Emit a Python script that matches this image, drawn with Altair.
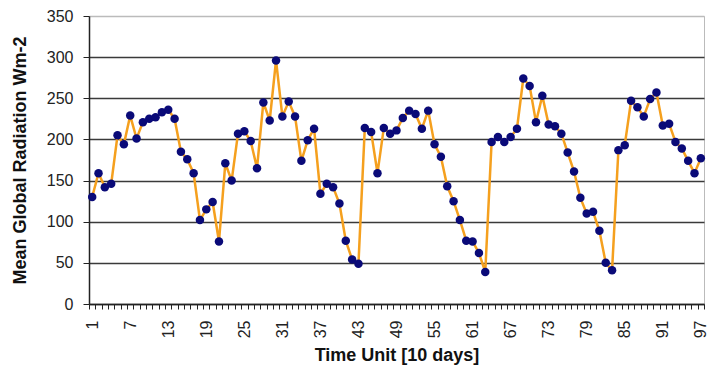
import altair as alt
import pandas as pd

time_unit = list(range(1, 98))
radiation = [130, 159, 142, 146, 205, 194, 229, 201, 221, 225,
             227, 233, 236, 225, 185, 176, 159, 102, 115, 124,
             76, 171, 150, 207, 210, 198, 165, 245, 223, 296,
             228, 246, 228, 174, 199, 213, 134, 146, 142, 122,
             77, 54, 49, 214, 209, 159, 214, 207, 211, 226,
             235, 231, 213, 235, 194, 179, 143, 125, 102, 77,
             76, 62, 39, 197, 203, 197, 203, 213, 274, 265,
             221, 253, 218, 216, 207, 184, 161, 129, 110, 112,
             89, 50, 41, 187, 193, 247, 239, 228, 249, 257,
             217, 219, 197, 189, 174, 159, 177]
y_ticks = [0, 50, 100, 150, 200, 250, 300, 350]

df = pd.DataFrame({"t": time_unit, "v": radiation})

FONT = "Liberation Sans"

x_enc = alt.X("t:O", sort=time_unit,
              scale=alt.Scale(paddingInner=0, paddingOuter=0),
              axis=alt.Axis(title="Time Unit [10 days]",
                            labelExpr="(datum.value - 1) % 6 == 0 ? datum.value : ''",
                            labelAngle=-90, labelAlign="right", labelBaseline="middle",
                            labelFontSize=16, labelColor="#222", labelFont=FONT,
                            labelPadding=11, labelOverlap=False,
                            tickBand="extent", tickSize=5, tickColor="#222",
                            domainColor="#222", domainWidth=1.5,
                            titleFont=FONT, titleFontSize=18, titleFontWeight="bold",
                            titleColor="#111", titlePadding=9, grid=False))
y_enc = alt.Y("v:Q", scale=alt.Scale(domain=[0, 350], nice=False),
              axis=alt.Axis(title="Mean Global Radiation Wm-2", values=y_ticks,
                            labelFontSize=16, labelColor="#222", labelFont=FONT,
                            tickSize=6, tickColor="#222", labelPadding=10,
                            domainColor="#222", domainWidth=1.5,
                            gridColor={"condition": {"test": "datum.value == 350", "value": "#bbbbbb"},
                                       "value": "#3a3a3a"},
                            gridWidth=1.3,
                            titleFont=FONT, titleFontSize=18, titleFontWeight="bold",
                            titleColor="#111", titlePadding=17))

line = alt.Chart(df).mark_line(color="#F5A01E", strokeWidth=2.5).encode(x=x_enc, y=y_enc)
pts = alt.Chart(df).mark_point(filled=True, color="#0A0A78", size=72, opacity=1).encode(x=x_enc, y=y_enc)

chart = (line + pts).properties(
    width=615, height=288,
    autosize=alt.AutoSizeParams(type="none"),
    padding={"left": 81, "top": 8, "right": 5, "bottom": 64},
).configure_view(stroke="#bbbbbb", strokeWidth=1)

chart.save("out.html", embed_options={"renderer": "svg", "actions": False})
